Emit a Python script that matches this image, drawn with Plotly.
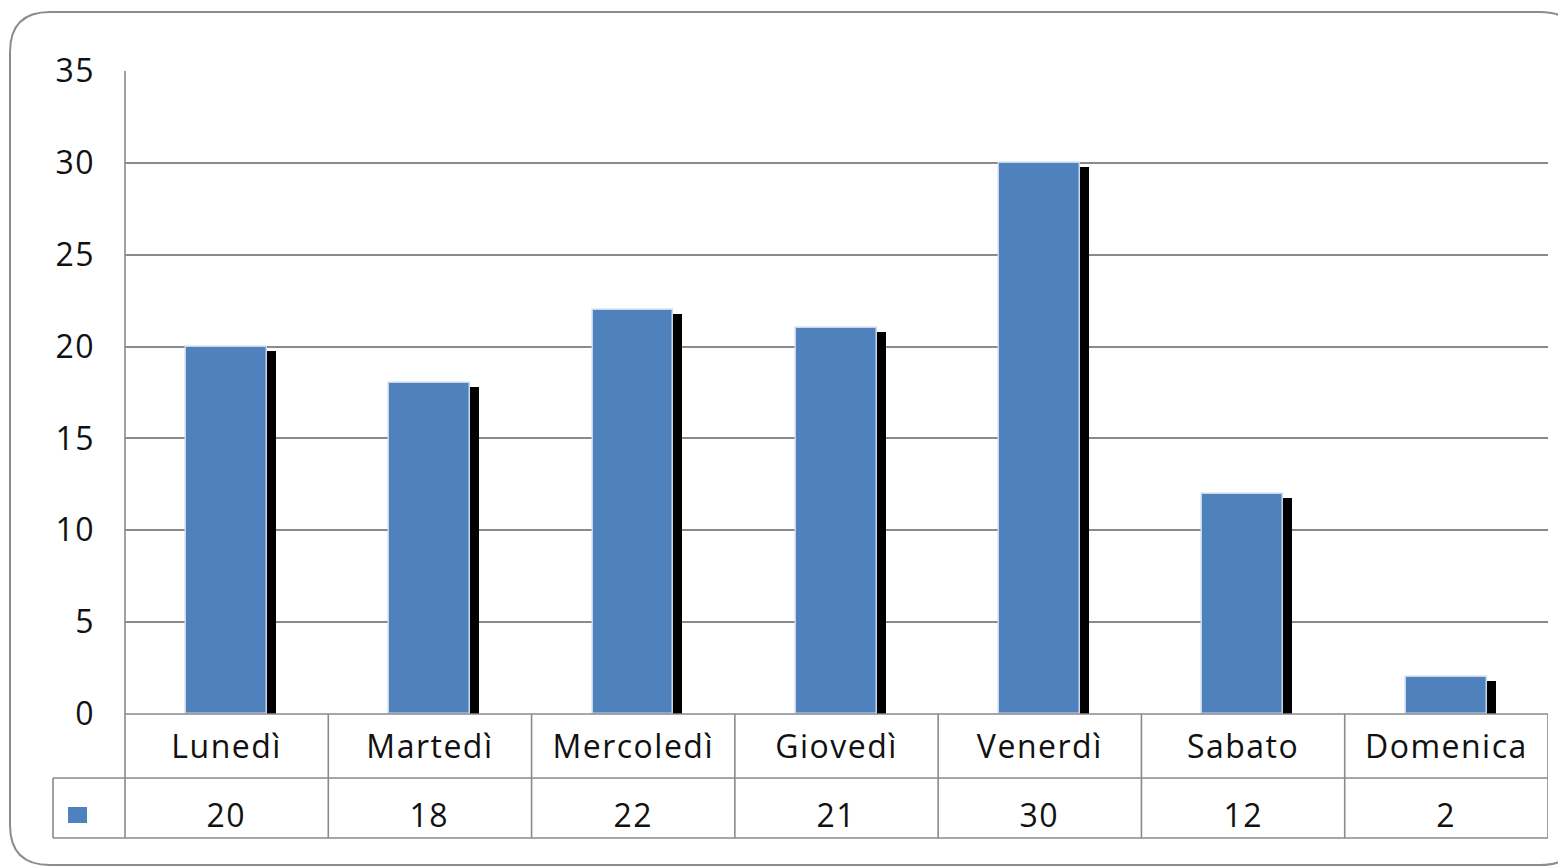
import plotly.graph_objects as go

# Days of the week and their counts
giorni = ["Lunedì", "Martedì", "Mercoledì", "Giovedì", "Venerdì", "Sabato", "Domenica"]
valori = [20, 18, 22, 21, 30, 12, 2]
y_ticks = [0, 5, 10, 15, 20, 25, 30, 35]

W, H = 1558, 867
L, R, T, B = 125, 1548, 71, 714   # plot area in pixels

BLUE = "#4F81BD"
GRID = "#8a8a8a"
FONT = dict(family="Open Sans", size=32, color="#111111", weight=500)


def px(xp):
    return (xp - L) / (R - L)


def py(yp):
    return (B - yp) / (B - T)


units_per_px = 35 / (B - T)
shadow_drop = 4 * units_per_px

fig = go.Figure()

# drop shadow behind each column
fig.add_trace(go.Bar(
    x=giorni, y=[v - shadow_drop for v in valori],
    width=0.398, offset=-0.2 + 0.044,
    marker=dict(color="#000000", line=dict(width=0)),
    hoverinfo="skip", showlegend=False,
))
# main columns
fig.add_trace(go.Bar(
    x=giorni, y=valori,
    width=0.398, offset=-0.2,
    marker=dict(color=BLUE, line=dict(color="#c9d7ea", width=1.5)),
    showlegend=False,
))

shapes = []
# outer rounded frame
x0, y0, x1, y1, r = 10, 12, 1580, 865, 40
frame = (
    f"M {px(x0)},{py(y0 + r)} "
    f"Q {px(x0)},{py(y0)} {px(x0 + r)},{py(y0)} "
    f"L {px(x1 - r)},{py(y0)} "
    f"Q {px(x1)},{py(y0)} {px(x1)},{py(y0 + r)} "
    f"L {px(x1)},{py(y1 - r)} "
    f"Q {px(x1)},{py(y1)} {px(x1 - r)},{py(y1)} "
    f"L {px(x0 + r)},{py(y1)} "
    f"Q {px(x0)},{py(y1)} {px(x0)},{py(y1 - r)} Z"
)
shapes.append(dict(type="path", path=frame, xref="paper", yref="paper",
                   line=dict(color="#8c8c8c", width=2), layer="below"))

row1_bot, row2_bot, key_left = 778, 838, 53
line_style = dict(color=GRID, width=1.6)
# vertical axis line running down through the data table
shapes.append(dict(type="line", xref="paper", yref="paper",
                   x0=0, x1=0, y0=1, y1=py(row2_bot), line=line_style))
# table horizontal rules
shapes.append(dict(type="line", xref="paper", yref="paper",
                   x0=0, x1=1, y0=0, y1=0, line=line_style))
for yy in (row1_bot, row2_bot):
    shapes.append(dict(type="line", xref="paper", yref="paper",
                       x0=px(key_left), x1=1, y0=py(yy), y1=py(yy), line=line_style))
# legend key cell left edge
shapes.append(dict(type="line", xref="paper", yref="paper",
                   x0=px(key_left), x1=px(key_left), y0=py(row1_bot), y1=py(row2_bot),
                   line=line_style))
# column separators
for i in range(len(giorni)):
    shapes.append(dict(type="line", xref="x", yref="paper",
                       x0=i + 0.5, x1=i + 0.5, y0=0, y1=py(row2_bot), line=line_style))
# legend key square
shapes.append(dict(type="rect", xref="paper", yref="paper",
                   x0=px(68), x1=px(87), y0=py(807), y1=py(823),
                   fillcolor=BLUE, line=dict(width=0)))

annotations = []
for g, v in zip(giorni, valori):
    annotations.append(dict(x=g, y=py(814), xref="x", yref="paper",
                            text=str(v), showarrow=False, font=FONT,
                            xanchor="center", yanchor="middle"))

fig.update_layout(
    width=W, height=H,
    margin=dict(l=L, r=W - R, t=T, b=H - B, pad=0),
    paper_bgcolor="white", plot_bgcolor="white",
    barmode="overlay", bargap=0,
    font=FONT,
    shapes=shapes, annotations=annotations,
    xaxis=dict(
        range=[-0.5, len(giorni) - 0.5], showgrid=False, zeroline=False,
        showline=False, ticks="", tickfont=FONT, ticklabelstandoff=11,
        fixedrange=True,
    ),
    yaxis=dict(
        range=[0, 35], tickvals=y_ticks, showgrid=True, gridcolor=GRID,
        gridwidth=1.6, zeroline=False, showline=False, ticks="",
        tickfont=FONT, ticklabelstandoff=29, fixedrange=True,
    ),
)

# slightly wider tracking for the axis and table text
spacing_js = """
var gd = document.getElementById('{plot_id}');
gd.querySelectorAll('.xtick text, .ytick text, .annotation-text').forEach(function (t) {
    t.style.letterSpacing = '1.5px';
});
"""

fig.write_html("out.html", post_script=spacing_js)
